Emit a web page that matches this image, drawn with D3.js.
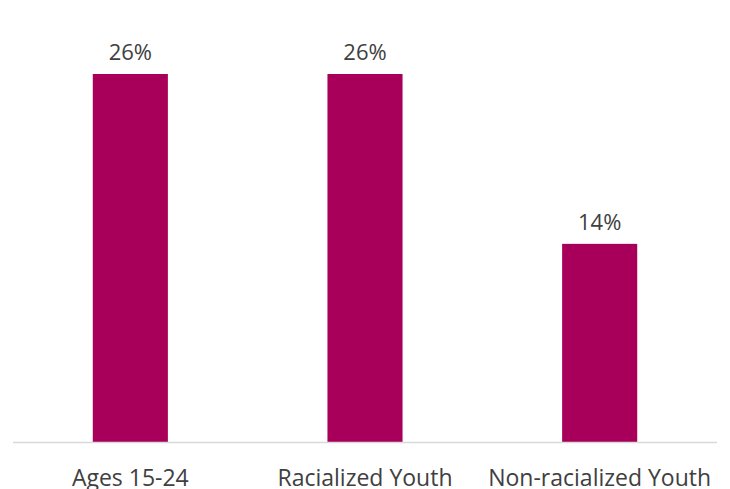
<!DOCTYPE html>
<html>
<head>
<meta charset="utf-8">
<script src="https://cdn.jsdelivr.net/npm/d3@7"></script>
<style>
  html, body { margin: 0; padding: 0; background: #fff; }
  svg { display: block; }
</style>
</head>
<body>
<svg id="chart" width="730" height="489"></svg>
<script>
const categories = ["Ages 15-24", "Racialized Youth", "Non-racialized Youth"];
const values = [26, 26, 14];

const svg = d3.select("#chart");
const plotLeft = 13, plotRight = 717, plotBottom = 442, plotTop = 74;

const x = d3.scaleBand().domain(categories).range([plotLeft, plotRight]).paddingInner(0.68).paddingOuter(0.34);
const y = d3.scaleLinear().domain([0, 26]).range([plotBottom, plotTop]);

const font = "'Open Sans', 'Liberation Sans', sans-serif";

svg.selectAll("rect.bar")
  .data(values)
  .join("rect")
  .attr("class", "bar")
  .attr("x", (d, i) => x(categories[i]))
  .attr("width", x.bandwidth())
  .attr("y", d => y(d))
  .attr("height", d => plotBottom - y(d))
  .attr("fill", "#A8005A");

// baseline axis
svg.append("line")
  .attr("x1", plotLeft).attr("x2", plotRight)
  .attr("y1", plotBottom + 0.5).attr("y2", plotBottom + 0.5)
  .attr("stroke", "#d9d9d9").attr("stroke-width", 1.5);

// value labels
svg.selectAll("text.val")
  .data(values)
  .join("text")
  .attr("class", "val")
  .attr("x", (d, i) => x(categories[i]) + x.bandwidth() / 2)
  .attr("y", d => y(d) - 14)
  .attr("text-anchor", "middle")
  .attr("font-family", font)
  .attr("font-size", 22)
  .attr("fill", "#404040")
  .text(d => d + "%");

// category labels
svg.selectAll("text.cat")
  .data(categories)
  .join("text")
  .attr("class", "cat")
  .attr("x", d => x(d) + x.bandwidth() / 2)
  .attr("y", 486)
  .attr("text-anchor", "middle")
  .attr("font-family", font)
  .attr("font-size", 23)
  .attr("fill", "#404040")
  .text(d => d);
</script>
</body>
</html>
